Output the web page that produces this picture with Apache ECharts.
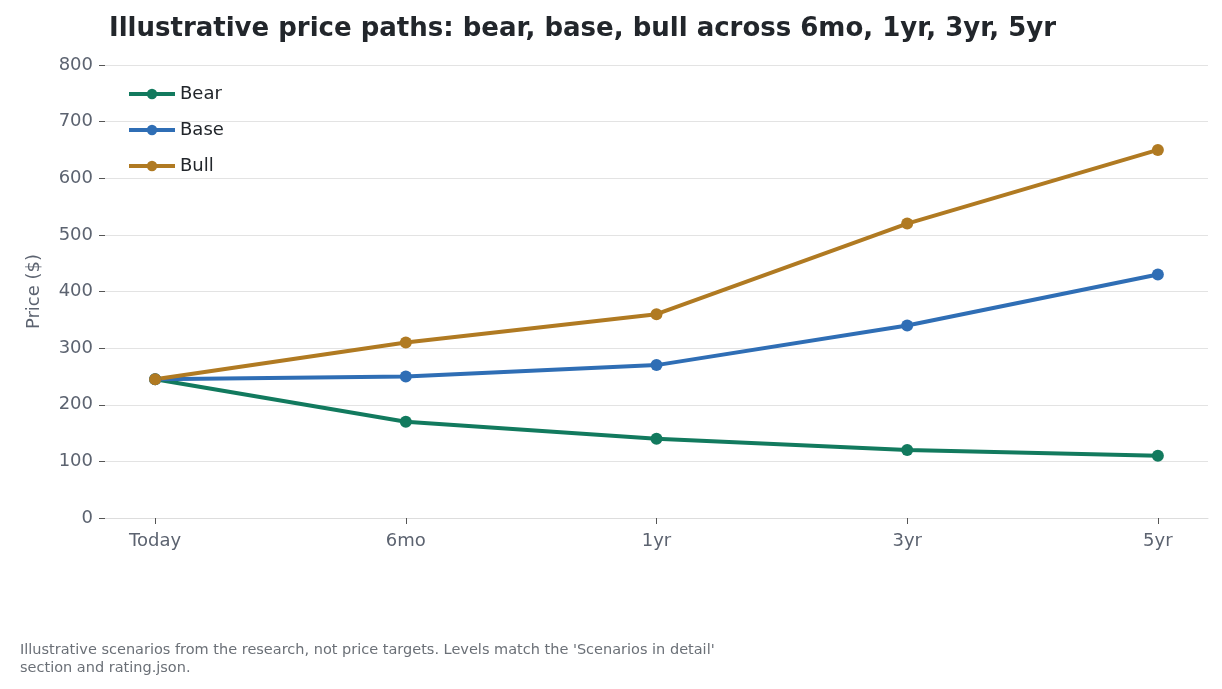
<!DOCTYPE html>
<html lang="en">
<head>
<meta charset="UTF-8"/>
<title>Price paths</title>
<script src="https://cdn.jsdelivr.net/npm/echarts@6/dist/echarts.min.js"></script>
<style>body{margin:0;background:#fff}</style>
</head>
<body>
<div id="main" style="width:1222px;height:689px;"></div>
<script>
var categories = ['Today', '6mo', '1yr', '3yr', '5yr'];
var bear = [245, 170, 140, 120, 110];
var base = [245, 250, 270, 340, 430];
var bull = [245, 310, 360, 520, 650];
var colors = ['#127a5e', '#2f6eb5', '#b07a22'];
var FONT = 'DejaVu Sans';

function pts(arr) { return arr.map(function (v, i) { return [i, v]; }); }
function line(name, arr, c) {
    return { name: name, type: 'line', data: pts(arr), symbol: 'circle', symbolSize: 12,
        lineStyle: { width: 4, color: c }, itemStyle: { color: c } };
}
var idx = categories.map(function (c, i) { return i; });

var chart = echarts.init(document.getElementById('main'));
chart.setOption({
    animation: false,
    textStyle: { fontFamily: FONT },
    title: [{ text: 'Illustrative price paths: bear, base, bull across 6mo, 1yr, 3yr, 5yr',
        left: 104, top: 11, textStyle: { fontFamily: FONT, fontSize: 26, fontWeight: 'bold', color: '#22262b' } },
        { text: "Illustrative scenarios from the research, not price targets. Levels match the 'Scenarios in detail'\nsection and rating.json.",
        left: 15, top: 636, textStyle: { fontFamily: FONT, fontSize: 14.5, fontWeight: 'normal', color: '#6b7077', lineHeight: 18 } }],
    legend: { orient: 'vertical', left: 122, top: 80, itemWidth: 46, itemHeight: 13, itemGap: 18,
        textStyle: { fontFamily: FONT, fontSize: 18, color: '#22262b' },
        lineStyle: { width: 4 },
        data: ['Bear', 'Base', 'Bull'] },
    grid: { left: 105, right: 14, top: 65, bottom: 171 },
    xAxis: { type: 'value', min: -0.2, max: 4.2,
        axisLine: { lineStyle: { color: '#dddddd' } },
        axisTick: { show: true, customValues: idx, length: 6, lineStyle: { color: '#555' } },
        axisLabel: { customValues: idx, fontFamily: FONT, fontSize: 18, color: '#5c6370', margin: 14,
            formatter: function (v) { return categories[Math.round(v)]; } },
        splitLine: { show: false } },
    yAxis: { type: 'value', min: 0, max: 800, interval: 100,
        name: 'Price ($)', nameLocation: 'middle', nameGap: 62,
        nameTextStyle: { fontFamily: FONT, fontSize: 18, color: '#5c6370' },
        axisLine: { show: false, onZero: false },
        axisTick: { show: true, length: 6, lineStyle: { color: '#555' } },
        axisLabel: { fontFamily: FONT, fontSize: 18, color: '#5c6370', margin: 12 },
        splitLine: { lineStyle: { color: '#e3e3e3', width: 1.2 } } },
    series: [line('Bear', bear, colors[0]), line('Base', base, colors[1]), line('Bull', bull, colors[2])]
});
</script>
</body>
</html>
